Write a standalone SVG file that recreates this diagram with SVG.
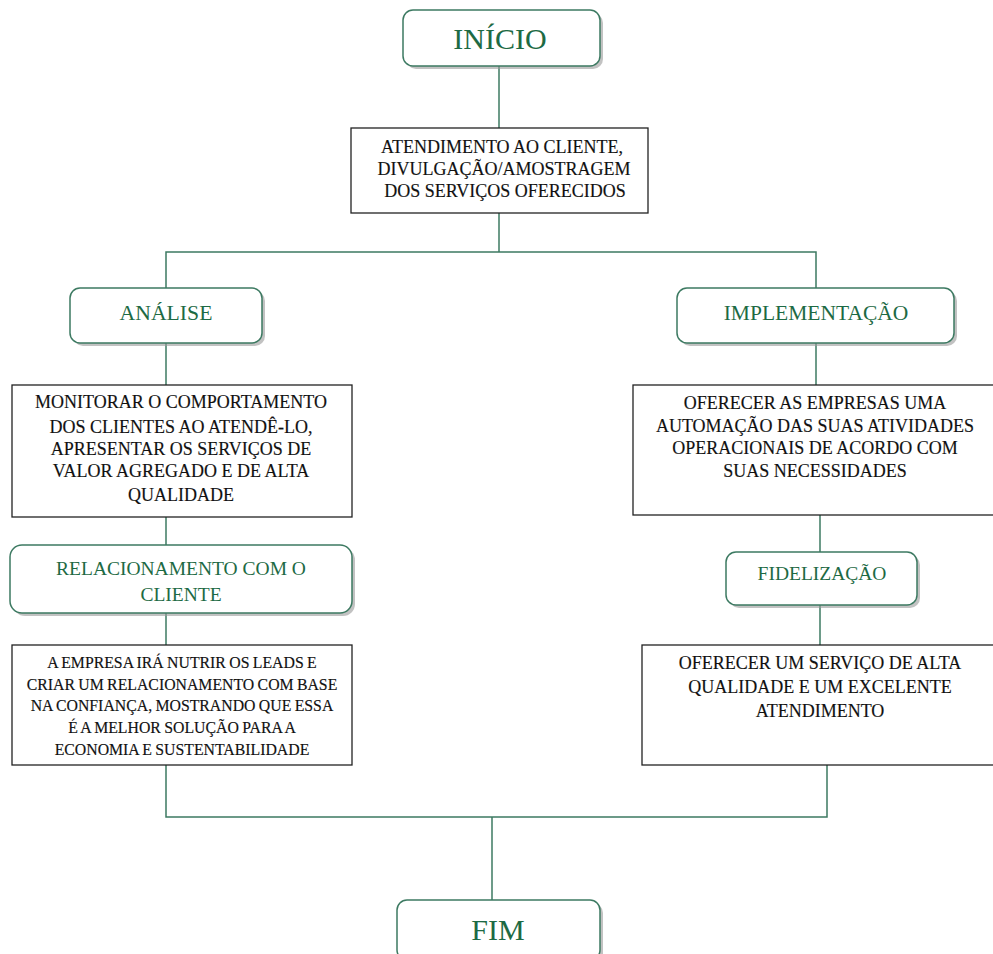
<svg xmlns="http://www.w3.org/2000/svg" width="993" height="954" viewBox="0 0 993 954">
<defs>
<style>
.conn{stroke:#3d7a62;stroke-width:1.5;fill:none}
.rbox{fill:#fff;stroke:#3d7a62;stroke-width:1.5}
.shadow{fill:#9a9a9a;opacity:0.6}
.box{fill:#fff;stroke:#222;stroke-width:1.3}
.gt{font-family:"Liberation Serif","Times New Roman",serif;fill:#1d6a44;text-anchor:middle}
.bt{font-family:"Liberation Serif","Times New Roman",serif;fill:#111;stroke:#111;stroke-width:0.15;text-anchor:middle;font-size:18px}
.st{font-family:"Liberation Serif","Times New Roman",serif;fill:#111;stroke:#111;stroke-width:0.15;text-anchor:middle;font-size:15.8px;word-spacing:-0.6px}
</style>
</defs>
<rect width="993" height="954" fill="#fff"/>
<g id="connectors">
<line class="conn" x1="499" y1="66" x2="499" y2="128"/>
<polyline class="conn" points="499,213 499,252"/>
<polyline class="conn" points="166,288 166,252 816,252 816,288"/>
<line class="conn" x1="166" y1="343" x2="166" y2="385"/>
<line class="conn" x1="166" y1="517" x2="166" y2="545"/>
<line class="conn" x1="166" y1="613" x2="166" y2="645"/>
<line class="conn" x1="816" y1="343" x2="816" y2="385"/>
<line class="conn" x1="820" y1="515" x2="820" y2="552"/>
<line class="conn" x1="820" y1="605" x2="820" y2="645"/>
<polyline class="conn" points="166,765 166,817 827,817 827,765"/>
<line class="conn" x1="492" y1="817" x2="492" y2="900"/>
</g>
<g id="inicio">
<rect class="shadow" x="406" y="13" width="197" height="56" rx="10"/>
<rect class="rbox" x="403" y="10" width="197" height="56" rx="10"/>
<text class="gt" x="500" y="49" font-size="30">INÍCIO</text>
</g>
<g id="atendimento">
<rect class="box" x="351" y="128" width="297" height="85"/>
<text class="bt" x="502" y="153">ATENDIMENTO AO CLIENTE,</text>
<text class="bt" x="504" y="175">DIVULGAÇÃO/AMOSTRAGEM</text>
<text class="bt" x="505" y="197">DOS SERVIÇOS OFERECIDOS</text>
</g>
<g id="analise">
<rect class="shadow" x="73" y="291" width="192" height="55" rx="10"/>
<rect class="rbox" x="70" y="288" width="192" height="55" rx="10"/>
<text class="gt" x="166" y="320" font-size="21.7">ANÁLISE</text>
</g>
<g id="implementacao">
<rect class="shadow" x="680" y="291" width="277" height="55" rx="10"/>
<rect class="rbox" x="677" y="288" width="277" height="55" rx="10"/>
<text class="gt" x="816" y="320" font-size="21.5">IMPLEMENTAÇÃO</text>
</g>
<g id="monitorar">
<rect class="box" x="12" y="385" width="340" height="132"/>
<text class="bt" x="181" y="408">MONITORAR O COMPORTAMENTO</text>
<text class="bt" x="181" y="433">DOS CLIENTES AO ATENDÊ-LO,</text>
<text class="bt" x="181" y="455">APRESENTAR OS SERVIÇOS DE</text>
<text class="bt" x="181" y="477">VALOR AGREGADO E DE ALTA</text>
<text class="bt" x="181" y="501">QUALIDADE</text>
</g>
<g id="oferecer-empresas">
<rect class="box" x="633" y="385" width="370" height="130"/>
<text class="bt" x="815" y="409">OFERECER AS EMPRESAS UMA</text>
<text class="bt" x="815" y="432">AUTOMAÇÃO DAS SUAS ATIVIDADES</text>
<text class="bt" x="815" y="454">OPERACIONAIS DE ACORDO COM</text>
<text class="bt" x="815" y="477">SUAS NECESSIDADES</text>
</g>
<g id="relacionamento">
<rect class="shadow" x="13" y="548" width="342" height="68" rx="12"/>
<rect class="rbox" x="10" y="545" width="342" height="68" rx="12"/>
<text class="gt" x="181" y="575" font-size="19.5">RELACIONAMENTO COM O</text>
<text class="gt" x="181" y="601" font-size="19.5">CLIENTE</text>
</g>
<g id="fidelizacao">
<rect class="shadow" x="729" y="555" width="191" height="53" rx="10"/>
<rect class="rbox" x="726" y="552" width="191" height="53" rx="10"/>
<text class="gt" x="822" y="580" font-size="19.5">FIDELIZAÇÃO</text>
</g>
<g id="empresa-nutrir">
<rect class="box" x="12" y="645" width="340" height="120"/>
<text class="st" x="182" y="668">A EMPRESA IRÁ NUTRIR OS LEADS E</text>
<text class="st" x="182" y="690">CRIAR UM RELACIONAMENTO COM BASE</text>
<text class="st" x="182" y="711">NA CONFIANÇA, MOSTRANDO QUE ESSA</text>
<text class="st" x="182" y="733">É A MELHOR SOLUÇÃO PARA A</text>
<text class="st" x="182" y="755">ECONOMIA E SUSTENTABILIDADE</text>
</g>
<g id="oferecer-servico">
<rect class="box" x="642" y="645" width="360" height="120"/>
<text class="bt" x="820" y="669">OFERECER UM SERVIÇO DE ALTA</text>
<text class="bt" x="820" y="693">QUALIDADE E UM EXCELENTE</text>
<text class="bt" x="820" y="717">ATENDIMENTO</text>
</g>
<g id="fim">
<rect class="shadow" x="400" y="903" width="203" height="60" rx="10"/>
<rect class="rbox" x="397" y="900" width="203" height="60" rx="10"/>
<text class="gt" x="498" y="940" font-size="30">FIM</text>
</g>
</svg>
